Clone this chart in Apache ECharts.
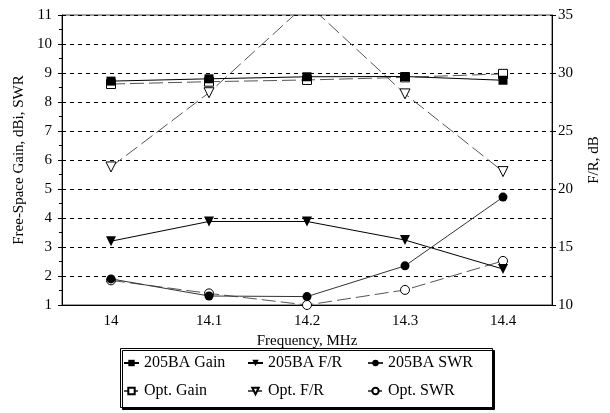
<!DOCTYPE html>
<html><head><meta charset="utf-8">
<script src="https://cdn.jsdelivr.net/npm/echarts@6/dist/echarts.min.js"></script>
<style>html,body{margin:0;padding:0;background:#fff}#c{width:610px;height:413px}</style>
</head><body><div id="c"></div>
<script>
var categories = ['14', '14.1', '14.2', '14.3', '14.4'];
var gain205 = [8.72, 8.8, 8.87, 8.88, 8.75];
var gainOpt = [8.62, 8.7, 8.76, 8.85, 8.97];
var fr205 = [15.5, 17.2, 17.2, 15.6, 13.1];
var frOpt = [21.9, 28.3, 36.0, 28.2, 21.5];
var swr205 = [1.9, 1.31, 1.29, 2.35, 4.72];
var swrOpt = [1.85, 1.4, 1.0, 1.52, 2.52];
var leftTicks = {min: 1, max: 11, interval: 1};
var rightTicks = {min: 10, max: 35, interval: 5};

var FONT = '"Liberation Serif", "Times New Roman", serif';
var chart = echarts.init(document.getElementById('c'), null, {renderer: 'canvas'});

function ser(name, data, axis, symbol, filled, dashed, lineColor, size, rot) {
  return {
    name: name, type: 'line', data: data, yAxisIndex: axis,
    symbol: symbol, symbolSize: size, symbolRotate: rot || 0,
    showAllSymbol: true, animation: false, clip: true,
    lineStyle: {color: lineColor, width: 1, type: dashed ? [14, 5] : 'solid'},
    itemStyle: {color: filled ? '#000' : '#fff', borderColor: '#000', borderWidth: filled ? 0 : 1},
    emphasis: {disabled: true}
  };
}

var legendBase = {
  orient: 'vertical', itemWidth: 15, itemHeight: 8, itemGap: 12, padding: 0,
  textStyle: {fontFamily: FONT, fontSize: 16, color: '#000'},
  selectedMode: false
};

chart.setOption({
  backgroundColor: '#fff',
  animation: false,
  grid: {left: 62, right: 56, top: 15, bottom: 108, show: true, borderColor: '#444', borderWidth: 1},
  xAxis: {
    type: 'category', data: categories, boundaryGap: true,
    name: 'Frequency, MHz', nameLocation: 'middle', nameGap: 27,
    nameTextStyle: {fontFamily: FONT, fontSize: 15, color: '#000'},
    axisLine: {lineStyle: {color: '#000'}},
    axisTick: {alignWithLabel: true, length: 7, lineStyle: {color: '#000'}},
    axisLabel: {fontFamily: FONT, fontSize: 15, color: '#000', margin: 9},
    splitLine: {show: false}
  },
  yAxis: [{
    type: 'value', min: leftTicks.min, max: leftTicks.max, interval: leftTicks.interval,
    name: 'Free-Space Gain, dBi, SWR', nameLocation: 'middle', nameGap: 34, nameRotate: 90,
    nameTextStyle: {fontFamily: FONT, fontSize: 15, color: '#000'},
    axisLine: {show: true, lineStyle: {color: '#000'}},
    axisTick: {show: true, length: 4, lineStyle: {color: '#000'}},
    minorTick: {show: true, splitNumber: 2, length: 3, lineStyle: {color: '#000'}},
    axisLabel: {fontFamily: FONT, fontSize: 15, color: '#000', margin: 10},
    splitLine: {show: true, lineStyle: {color: '#000', type: [4, 4], width: 1}}
  }, {
    type: 'value', min: rightTicks.min, max: rightTicks.max, interval: rightTicks.interval,
    position: 'right',
    name: 'F/R, dB', nameLocation: 'middle', nameGap: 35, nameRotate: 90,
    nameTextStyle: {fontFamily: FONT, fontSize: 15, color: '#000'},
    axisLine: {show: true, lineStyle: {color: '#000'}},
    axisTick: {show: true, length: 4, lineStyle: {color: '#000'}},
    axisLabel: {fontFamily: FONT, fontSize: 15, color: '#000', margin: 6},
    splitLine: {show: false}
  }],
  legend: [
    Object.assign({}, legendBase, {left: 123, top: 355, data: ['205BA Gain', 'Opt. Gain']}),
    Object.assign({}, legendBase, {left: 247, top: 355, data: ['205BA F/R', 'Opt. F/R']}),
    Object.assign({}, legendBase, {left: 367, top: 355, data: ['205BA SWR', 'Opt. SWR']})
  ],
  graphic: [{
    type: 'rect', left: 120, top: 348, z: -1,
    shape: {width: 372, height: 59},
    style: {fill: '#fff', stroke: '#000', lineWidth: 1, shadowColor: '#000', shadowOffsetX: 2, shadowOffsetY: 2, shadowBlur: 0}
  }],
  series: [
    ser('Opt. Gain', gainOpt, 0, 'rect', false, true, '#555', 9),
    ser('Opt. F/R', frOpt, 1, 'triangle', false, true, '#555', 10, 180),
    ser('Opt. SWR', swrOpt, 0, 'circle', false, true, '#555', 9),
    ser('205BA Gain', gain205, 0, 'rect', true, false, '#000', 9),
    ser('205BA F/R', fr205, 1, 'triangle', true, false, '#000', 10, 180),
    ser('205BA SWR', swr205, 0, 'circle', true, false, '#333', 9)
  ]
});
</script></body></html>
